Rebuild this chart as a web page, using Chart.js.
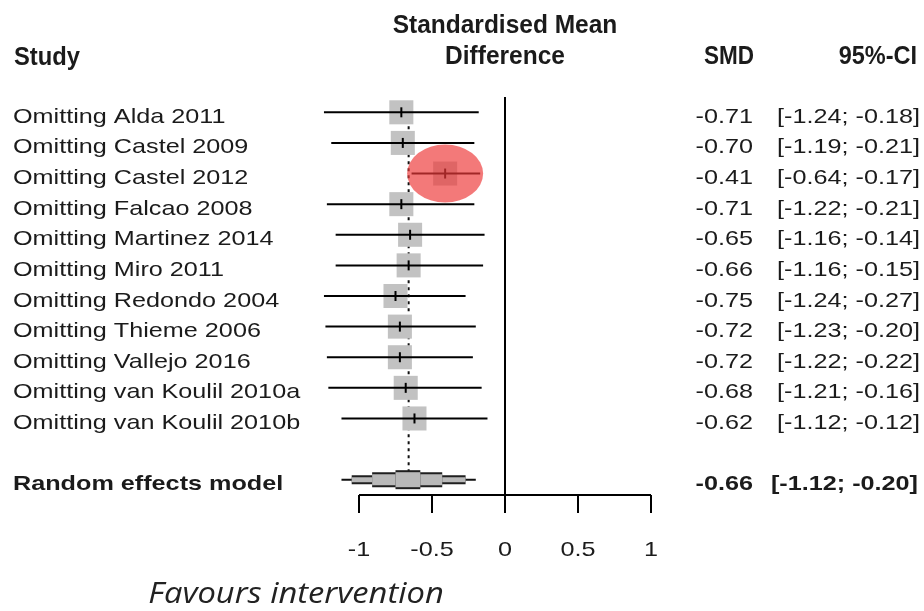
<!DOCTYPE html>
<html lang="en">
<head>
  <meta charset="UTF-8">
  <title>Leave-one-out forest plot</title>
  <script src="https://cdn.jsdelivr.net/npm/chart.js"></script>
  <style>
    body {
      margin: 0;
      padding: 0;
      background-color: #fff;
    }
    #wrap {
      width: 924px;
      height: 611px;
    }
  </style>
</head>
<body>
  <div id="wrap"><canvas id="forest" width="924" height="611"></canvas></div>

  <script>
    // Leave-one-out results
    const studies = [
      'Omitting Alda 2011', 'Omitting Castel 2009', 'Omitting Castel 2012',
      'Omitting Falcao 2008', 'Omitting Martinez 2014', 'Omitting Miro 2011',
      'Omitting Redondo 2004', 'Omitting Thieme 2006', 'Omitting Vallejo 2016',
      'Omitting van Koulil 2010a', 'Omitting van Koulil 2010b'
    ];
    const smd = [-0.71, -0.70, -0.41, -0.71, -0.65, -0.66, -0.75, -0.72, -0.72, -0.68, -0.62];
    const ciLower = [-1.24, -1.19, -0.64, -1.22, -1.16, -1.16, -1.24, -1.23, -1.22, -1.21, -1.12];
    const ciUpper = [-0.18, -0.21, -0.17, -0.21, -0.14, -0.15, -0.27, -0.20, -0.22, -0.16, -0.12];
    const highlightIndex = 2;

    // Pooled estimate
    const pooledLabel = 'Random effects model';
    const pooledSmd = -0.66;
    const pooledLower = -1.12;
    const pooledUpper = -0.20;
    // inner bands of the pooled marker (outer to inner)
    const bandLower = [-1.05, -0.91, -0.75];
    const bandUpper = [-0.27, -0.43, -0.58];

    // x axis
    const tickValues = [-1, -0.5, 0, 0.5, 1];
    const tickLabels = ['-1', '-0.5', '0', '0.5', '1'];
    const axisTitle = 'Favours intervention';

    const pooledRow = studies.length + 1;
    const fontBody = '21px "Liberation Sans", Arial, sans-serif';
    const fontBold = 'bold 21px "Liberation Sans", Arial, sans-serif';
    const fontHead = 'bold 25px "Liberation Sans", Arial, sans-serif';
    const ink = '#1b1b1b';

    function segment(lo, hi, row, color, width, order, dash) {
      return {
        data: [{ x: lo, y: row }, { x: hi, y: row }],
        showLine: true,
        borderColor: color,
        borderWidth: width,
        borderCapStyle: 'butt',
        borderDash: dash || [],
        pointRadius: 0,
        order: order
      };
    }

    function vline(xv, y0, y1, color, width, order, dash) {
      const ds = segment(0, 0, 0, color, width, order, dash);
      ds.data = [{ x: xv, y: y0 }, { x: xv, y: y1 }];
      return ds;
    }

    const datasets = [];

    // point estimate ticks
    datasets.push({
      data: smd.map((v, i) => ({ x: v, y: i })),
      pointStyle: 'line',
      rotation: 90,
      pointRadius: 5,
      borderWidth: 2,
      borderColor: '#000',
      order: 0
    });

    // confidence intervals
    studies.forEach((s, i) => {
      datasets.push(segment(ciLower[i], ciUpper[i], i, '#000', 2, 1));
    });

    // weight squares
    datasets.push({
      data: smd.map((v, i) => ({ x: v, y: i })),
      pointStyle: 'rect',
      pointRadius: 17,
      backgroundColor: '#c2c2c2',
      borderWidth: 0,
      order: 2
    });

    // pooled marker: nested bands, thicker towards the centre
    const bandWidths = [5, 11, 15];
    for (let b = bandLower.length - 1; b >= 0; b--) {
      const ord = 3 + (bandLower.length - 1 - b) * 2;
      datasets.push(segment(bandLower[b], bandUpper[b], pooledRow, '#b9b9b9', bandWidths[b], ord));
      datasets.push(segment(bandLower[b], bandUpper[b], pooledRow, '#1f1f1f', bandWidths[b] + 4, ord + 1));
    }
    datasets.push(segment(pooledLower, pooledUpper, pooledRow, '#111', 2, 9));

    // pooled reference line and line of no effect
    datasets.push(vline(pooledSmd, 0, pooledRow, '#111', 2, 10, [3, 4]));
    datasets.push(vline(0, -0.5, pooledRow + 0.5, '#000', 2, 11));

    function drawText(ctx, str, px, py, align, sx) {
      ctx.save();
      ctx.translate(px, py);
      ctx.scale(sx, 1);
      ctx.textAlign = align;
      ctx.fillText(str, 0, 0);
      ctx.restore();
    }

    const forestDecor = {
      id: 'forestDecor',
      afterDatasetsDraw(chart) {
        const { ctx, scales: { x, y }, chartArea } = chart;
        ctx.save();

        // highlighted study
        ctx.fillStyle = 'rgba(238, 58, 58, 0.68)';
        ctx.beginPath();
        ctx.ellipse(x.getPixelForValue(smd[highlightIndex]), y.getPixelForValue(highlightIndex), 38, 29, 0, 0, Math.PI * 2);
        ctx.fill();

        // x axis
        const base = chartArea.bottom;
        ctx.strokeStyle = '#000';
        ctx.lineWidth = 2;
        ctx.beginPath();
        ctx.moveTo(x.getPixelForValue(tickValues[0]), base);
        ctx.lineTo(x.getPixelForValue(tickValues[tickValues.length - 1]), base);
        tickValues.forEach(v => {
          ctx.moveTo(x.getPixelForValue(v), base);
          ctx.lineTo(x.getPixelForValue(v), base + 18);
        });
        ctx.stroke();

        ctx.fillStyle = ink;
        ctx.textBaseline = 'alphabetic';
        ctx.font = fontBody;
        tickValues.forEach((v, i) => {
          drawText(ctx, tickLabels[i], x.getPixelForValue(v), base + 61, 'center', 1.2);
        });

        ctx.font = 'italic 30px "Open Sans", sans-serif';
        ctx.fillStyle = '#222';
        drawText(ctx, axisTitle, 296, 603, 'center', 1.09);

        // headers
        ctx.fillStyle = ink;
        ctx.font = fontHead;
        drawText(ctx, 'Study', 14, 65, 'left', 0.95);
        drawText(ctx, 'Standardised Mean', x.getPixelForValue(0), 33, 'center', 0.98);
        drawText(ctx, 'Difference', x.getPixelForValue(0), 64, 'center', 0.98);
        drawText(ctx, 'SMD', 729, 64, 'center', 0.9);
        drawText(ctx, '95%-CI', 917, 64, 'right', 0.94);

        // study rows
        ctx.font = fontBody;
        studies.forEach((s, i) => {
          const py = y.getPixelForValue(i) + 10.5;
          drawText(ctx, s, 13, py, 'left', 1.2);
          drawText(ctx, smd[i].toFixed(2), 753, py, 'right', 1.2);
          drawText(ctx, '[' + ciLower[i].toFixed(2) + '; ' + ciUpper[i].toFixed(2) + ']', 920, py, 'right', 1.2);
        });

        // pooled row
        ctx.font = fontBold;
        const pp = y.getPixelForValue(pooledRow) + 10.5;
        drawText(ctx, pooledLabel, 13, pp, 'left', 1.2);
        drawText(ctx, pooledSmd.toFixed(2), 753, pp, 'right', 1.2);
        drawText(ctx, '[' + pooledLower.toFixed(2) + '; ' + pooledUpper.toFixed(2) + ']', 918, pp, 'right', 1.2);

        ctx.restore();
      }
    };

    const ctx = document.getElementById('forest').getContext('2d');
    const chart = new Chart(ctx, {
      type: 'scatter',
      data: { datasets: datasets },
      options: {
        responsive: false,
        animation: false,
        events: [],
        layout: {
          padding: { left: 286, right: 200, top: 97, bottom: 116 }
        },
        scales: {
          x: { type: 'linear', min: -1.5, max: 1.5, display: false },
          y: { type: 'linear', min: -0.5, max: pooledRow + 0.5, reverse: true, display: false }
        },
        plugins: {
          legend: { display: false },
          tooltip: { enabled: false }
        }
      },
      plugins: [forestDecor]
    });
  </script>
</body>
</html>
